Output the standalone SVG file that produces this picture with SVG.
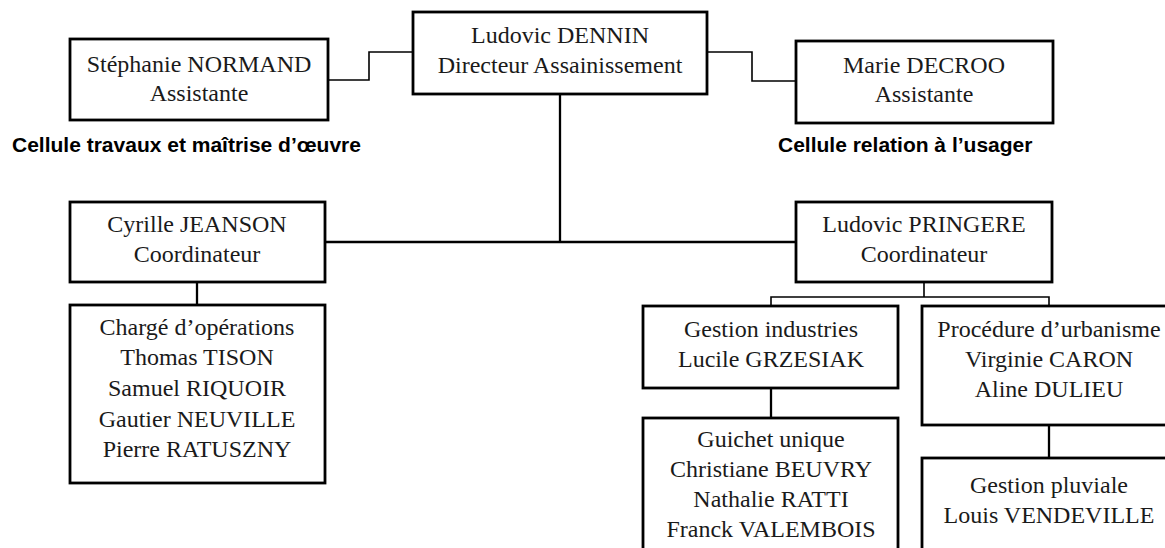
<svg xmlns="http://www.w3.org/2000/svg" width="1165" height="548" viewBox="0 0 1165 548">
<style>
.box{fill:#fff;stroke:#000;stroke-width:2.8}
.t{font-family:"Liberation Serif","Times New Roman",serif;font-size:24px;fill:#1a1a1a;text-anchor:middle}
.lbl{font-family:"Liberation Sans",Arial,sans-serif;font-size:21px;font-weight:bold;fill:#000}
.c{fill:none;stroke:#000;stroke-width:1.6}
.c2{fill:none;stroke:#000;stroke-width:2.3}
</style>
<rect width="1165" height="548" fill="#fff"/>
<g id="connectors">
<path class="c" d="M328 80 H369 V52 H413"/>
<path class="c" d="M707 52 H752 V81 H796"/>
<path class="c2" d="M560 94 V242"/>
<path class="c2" d="M325 242 H796"/>
<path class="c2" d="M197 282 V305"/>
<path class="c" d="M924 282 V297 H771 V306 M924 297 H1049 V306"/>
<path class="c2" d="M771 388 V418"/>
<path class="c2" d="M1049 425 V458"/>
</g>
<g id="n-dennin"><rect class="box" x="413" y="12" width="294" height="82"/>
<text class="t" x="560" y="43">Ludovic DENNIN</text><text class="t" x="560" y="73">Directeur Assainissement</text></g>
<g id="n-normand"><rect class="box" x="70" y="39" width="258" height="81"/>
<text class="t" x="199" y="72">Stéphanie NORMAND</text><text class="t" x="199" y="101">Assistante</text></g>
<g id="n-decroo"><rect class="box" x="796" y="41" width="257" height="82"/>
<text class="t" x="924" y="73">Marie DECROO</text><text class="t" x="924" y="102">Assistante</text></g>
<g id="lbl-travaux"><text class="lbl" x="12" y="152">Cellule travaux et maîtrise d’œuvre</text></g>
<g id="lbl-usager"><text class="lbl" x="778" y="152">Cellule relation à l’usager</text></g>
<g id="n-jeanson"><rect class="box" x="70" y="202" width="255" height="80"/>
<text class="t" x="197" y="232">Cyrille JEANSON</text><text class="t" x="197" y="262">Coordinateur</text></g>
<g id="n-pringere"><rect class="box" x="796" y="202" width="256" height="80"/>
<text class="t" x="924" y="232">Ludovic PRINGERE</text><text class="t" x="924" y="262">Coordinateur</text></g>
<g id="n-operations"><rect class="box" x="70" y="305" width="255" height="178"/>
<text class="t" x="197" y="335">Chargé d’opérations</text>
<text class="t" x="197" y="365">Thomas TISON</text>
<text class="t" x="197" y="396">Samuel RIQUOIR</text>
<text class="t" x="197" y="427">Gautier NEUVILLE</text>
<text class="t" x="197" y="457">Pierre RATUSZNY</text></g>
<g id="n-industries"><rect class="box" x="643" y="306" width="255" height="82"/>
<text class="t" x="771" y="337">Gestion industries</text><text class="t" x="771" y="367">Lucile GRZESIAK</text></g>
<g id="n-urbanisme"><rect class="box" x="922" y="306" width="254" height="119"/>
<text class="t" x="1049" y="337">Procédure d’urbanisme</text><text class="t" x="1049" y="367">Virginie CARON</text><text class="t" x="1049" y="397">Aline DULIEU</text></g>
<g id="n-guichet"><rect class="box" x="643" y="418" width="255" height="142"/>
<text class="t" x="771" y="447">Guichet unique</text><text class="t" x="771" y="477">Christiane BEUVRY</text><text class="t" x="771" y="507">Nathalie RATTI</text><text class="t" x="771" y="537">Franck VALEMBOIS</text></g>
<g id="n-pluviale"><rect class="box" x="922" y="458" width="254" height="110"/>
<text class="t" x="1049" y="493">Gestion pluviale</text><text class="t" x="1049" y="523">Louis VENDEVILLE</text></g>
</svg>
